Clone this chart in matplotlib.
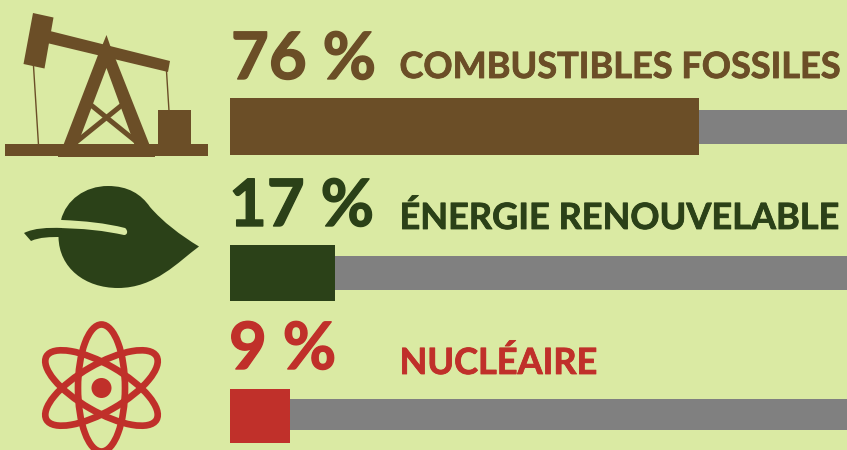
import matplotlib
matplotlib.use("Agg")
import matplotlib.pyplot as plt
import matplotlib.patheffects as pe
from matplotlib.patches import Polygon, PathPatch, Ellipse, Circle
from matplotlib.path import Path

# --- data ---
categories = ["COMBUSTIBLES FOSSILES", "ÉNERGIE RENOUVELABLE", "NUCLÉAIRE"]
value_labels = ["76 %", "17 %", "9 %"]
bar_values = [76, 17, 9.7]
track_values = [100, 100, 100]
colors = ["#6B4E27", "#2B4118", "#C0302A"]

BG = "#DAEAA3"
GREY = "#808080"
W, H = 847, 450
FONT = "Lato"

fig = plt.figure(figsize=(W / 100, H / 100), dpi=100, facecolor=BG)

# overlay in pixel coordinates for pictograms and text
ov = fig.add_axes([0, 0, 1, 1], zorder=1)
ov.set_xlim(0, W)
ov.set_ylim(H, 0)
ov.axis("off")

# bars: 0-100 % maps to x pixels 230-847
ax = fig.add_axes([230 / W, 0, 617 / W, 1], zorder=2)
ax.set_xlim(0, 100)
ax.set_ylim(H, 0)
ax.axis("off")
ax.patch.set_alpha(0)

track_y = [127, 273, 414.5]
track_h = [34, 34, 31]
bar_y = [126.5, 273, 416]
bar_h = [57, 56, 54]
ax.barh(track_y, track_values, height=track_h, color=GREY, linewidth=0)
for y, h, v, c in zip(bar_y, bar_h, bar_values, colors):
    ax.barh(y, v, height=h, color=c, linewidth=0)

# text
num_y = [79, 226, 369]
lab_y = [78, 229, 374]
num_x = [231, 229, 229]
lab_x = [399.5, 399.5, 399.5]
for i in range(3):
    ov.text(num_x[i], num_y[i], value_labels[i], color=colors[i], family=FONT,
            weight="bold", fontsize=47, ha="left", va="baseline",
            path_effects=[pe.withStroke(linewidth=1.0, foreground=colors[i])])
    ov.text(lab_x[i], lab_y[i], categories[i], color=colors[i], family=FONT,
            weight="bold", fontsize=26, ha="left", va="baseline",
            path_effects=[pe.withStroke(linewidth=0.6, foreground=colors[i])])

# --- oil pump icon ---
c = colors[0]
def poly(pts, col=c):
    ov.add_patch(Polygon(pts, closed=True, facecolor=col, edgecolor="none"))

poly([(5, 144), (208, 144), (208, 156), (5, 156)])
poly([(58, 150), (155, 150), (155, 157), (58, 157)])
poly([(158, 110), (191, 110), (191, 146), (158, 146)])
poly([(33, 13), (53.5, 17.5), (44.5, 68.5), (23.5, 64)])
poly([(50, 31), (170, 61), (168, 72), (47, 43)])
# derrick legs
poly([(106.5, 35), (111, 48), (116, 60), (150, 146), (135, 146), (106.5, 68),
      (77, 146), (63, 146), (98, 55), (102, 46)])
# cross braces
ov.plot([91, 138], [105, 143], color=c, lw=3.6, solid_capstyle="butt")
ov.plot([122, 75], [105, 143], color=c, lw=3.6, solid_capstyle="butt")
# cables
ov.plot([33.5, 38.5], [66, 145], color=c, lw=1.0)
ov.plot([166.5, 169], [71, 111], color=c, lw=1.0)

# --- leaf icon ---
g = colors[1]
V, C, L, Z = Path.MOVETO, Path.CURVE4, Path.LINETO, Path.CLOSEPOLY
leaf = [
    ((61, 220), V),
    ((66, 200), C), ((85, 186), C), ((108, 186), C),
    ((128, 186), C), ((141, 194), C), ((150, 207), C),
    ((163, 222), C), ((180, 235), C), ((199, 246.5), C),
    ((178, 262), C), ((155, 288), C), ((118, 288), C),
    ((85, 288), C), ((59, 268), C), ((58.5, 237), C),
    ((58.5, 226), L),
    ((61, 220), L),
    ((61, 220), Z),
]
verts, codes = zip(*leaf)
ov.add_patch(PathPatch(Path(verts, codes), facecolor=g, edgecolor="none"))
# light vein, open to the background on its left
vein = [
    ((50, 217), V), ((62, 220), L),
    ((85, 221), C), ((105, 223), C), ((125, 228), C),
    ((128, 230), C), ((128, 235), C), ((124, 235), C),
    ((105, 231), C), ((85, 228), C), ((50, 228), C),
    ((50, 217), Z),
]
verts, codes = zip(*vein)
ov.add_patch(PathPatch(Path(verts, codes), facecolor=BG, edgecolor="none"))
# stem
stem = [
    ((24, 233), V), ((34, 228), C), ((48, 227.5), C), ((62, 228), C),
    ((62, 237), L),
    ((50, 237), C), ((40, 237), C), ((31, 241), C),
    ((24, 233), Z),
]
verts, codes = zip(*stem)
ov.add_patch(PathPatch(Path(verts, codes), facecolor=g, edgecolor="none"))

# --- atom icon ---
r = colors[2]
cx, cy = 101.5, 388
for ang in (0, 60, -60):
    ov.add_patch(Ellipse((cx, cy), width=47, height=127, angle=ang, fill=False,
                         edgecolor=r, linewidth=4.8))
ov.add_patch(Circle((cx, cy), 10, facecolor=r, edgecolor="none"))

fig.savefig("out.png", dpi=100, facecolor=BG)
